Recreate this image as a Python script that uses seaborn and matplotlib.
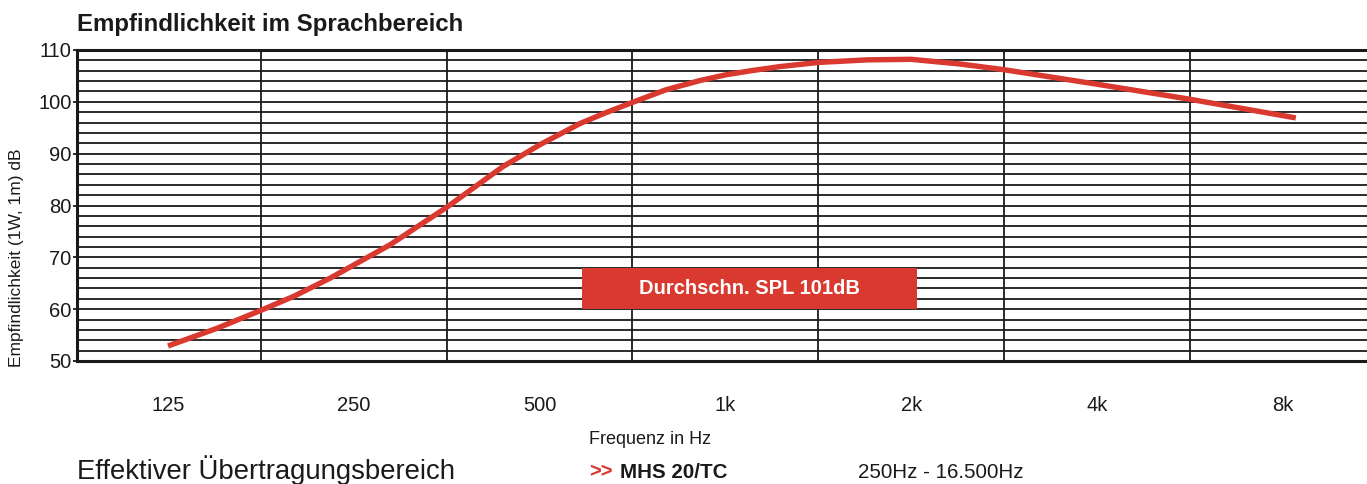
import matplotlib
matplotlib.use("Agg")
import matplotlib.pyplot as plt
import matplotlib.ticker as mticker
from matplotlib.patches import Rectangle
import seaborn as sns
import pandas as pd

# ---- data ----
freq_hz = [125, 150, 177, 200, 229, 286, 355, 436, 500, 581, 640, 711, 800, 909,
           1000, 1100, 1226, 1414, 1700, 2000, 2400, 2828, 4000, 5657, 8400]
spl_db = [52.9, 56.3, 59.8, 62.5, 66.0, 72.4, 79.8, 87.5, 91.7, 95.8, 97.9, 100.0, 102.3, 104.1,
          105.2, 106.0, 106.8, 107.6, 108.1, 108.2, 107.3, 106.2, 103.4, 100.5, 96.9]
tick_freqs = [125, 250, 500, 1000, 2000, 4000, 8000]
tick_labels = ["125", "250", "500", "1k", "2k", "4k", "8k"]
band_edges_hz = [177, 354, 707, 1414, 2828, 5657]
y_major = [50, 60, 70, 80, 90, 100, 110]

title = "Empfindlichkeit im Sprachbereich"
ylabel = "Empfindlichkeit (1W, 1m) dB"
xlabel = "Frequenz in Hz"
badge = "Durchschn. SPL 101dB"
footer_left = "Effektiver Übertragungsbereich"
model = "MHS 20/TC"
freq_range = "250Hz - 16.500Hz"

RED = "#D9392F"
INK = "#1a1a1a"
df = pd.DataFrame({"freq": freq_hz, "spl": spl_db})

sns.set_theme(style="white")
plt.rcParams["font.family"] = ["Liberation Sans", "DejaVu Sans"]

fig = plt.figure(figsize=(13.67, 4.84), dpi=100)
ax = fig.add_axes([77 / 1367, 1 - 361 / 484, 1 - 77 / 1367, (361 - 50) / 484])

sns.lineplot(data=df, x="freq", y="spl", ax=ax, color=RED, linewidth=3.9,
             zorder=5, solid_capstyle="butt", solid_joinstyle="round")

ax.set_xscale("log", base=2)
ax.set_xlim(89, 10955)
ax.set_ylim(50, 110)

ax.xaxis.set_major_locator(mticker.FixedLocator(tick_freqs))
ax.xaxis.set_major_formatter(mticker.FixedFormatter(tick_labels))
ax.xaxis.set_minor_locator(mticker.FixedLocator(band_edges_hz))
ax.xaxis.set_minor_formatter(mticker.NullFormatter())
ax.yaxis.set_major_locator(mticker.FixedLocator(y_major))
ax.yaxis.set_minor_locator(mticker.MultipleLocator(2))

ax.grid(False)
ax.grid(which="minor", axis="x", color=INK, linewidth=1.3)
ax.grid(which="both", axis="y", color=INK, linewidth=1.3)
ax.set_axisbelow(True)

ax.tick_params(axis="x", which="both", length=0, pad=25, labelsize=14.5, colors=INK)
ax.tick_params(axis="y", which="major", length=3, width=1.3, pad=1, labelsize=14.5,
               colors=INK, direction="out", left=True)
ax.tick_params(axis="y", which="minor", length=0)

for side in ["top", "bottom", "left"]:
    ax.spines[side].set_visible(True)
    ax.spines[side].set_color(INK)
    ax.spines[side].set_linewidth(2.2)
ax.spines["right"].set_visible(False)

ax.set_xlabel("")
ax.set_ylabel("")

# badge
ax.add_patch(Rectangle((505 / 1290, 52 / 311), 335 / 1290, 41 / 311,
                       transform=ax.transAxes, facecolor=RED, edgecolor="none", zorder=6))
ax.text((505 + 335 / 2) / 1290, (52 + 20.5) / 311, badge, transform=ax.transAxes,
        ha="center", va="center", color="white", fontsize=14.5, fontweight="bold", zorder=7)

# texts on figure
fig.text(77 / 1367, 1 - 25 / 484, title, ha="left", va="center", fontsize=17.3,
         fontweight="bold", color=INK)
fig.text(17 / 1367, 1 - 258 / 484, ylabel, rotation=90, ha="center", va="center",
         fontsize=12.5, color=INK)
fig.text(589 / 1367, 1 - 440 / 484, xlabel, ha="left", va="center", fontsize=13,
         color=INK)
fig.text(77 / 1367, 1 - 470 / 484, footer_left, ha="left", va="center", fontsize=19.8,
         color=INK)
fig.text(589 / 1367, 1 - 472 / 484, ">>", ha="left", va="center", fontsize=14.5,
         fontweight="bold", color=RED)
fig.text(620 / 1367, 1 - 472 / 484, model, ha="left", va="center", fontsize=14.8,
         fontweight="bold", color=INK)
fig.text(858 / 1367, 1 - 472 / 484, freq_range, ha="left", va="center", fontsize=14.8,
         color=INK)

fig.savefig("out.png", dpi=100)
